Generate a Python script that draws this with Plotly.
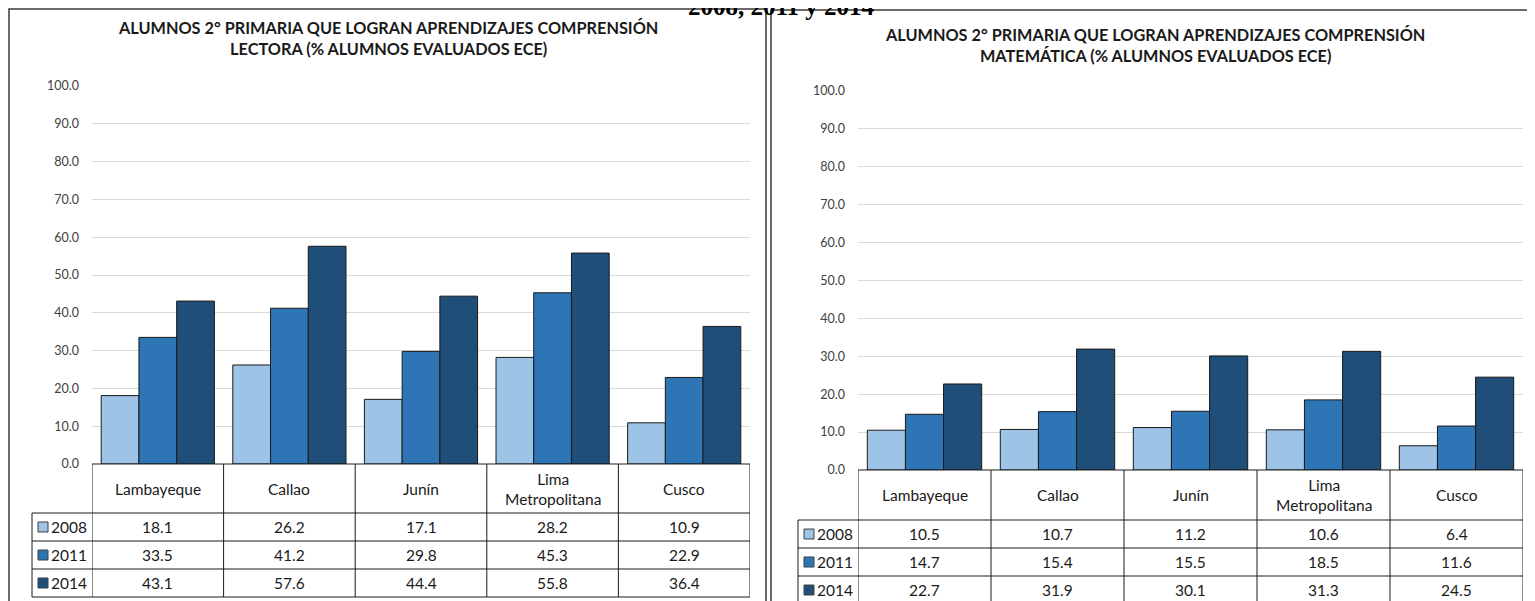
import plotly.graph_objects as go

# data
regiones = ["Lambayeque", "Callao", "Junín", "Lima<br>Metropolitana", "Cusco"]
anios = ["2008", "2011", "2014"]
lectora_2008 = [18.1, 26.2, 17.1, 28.2, 10.9]
lectora_2011 = [33.5, 41.2, 29.8, 45.3, 22.9]
lectora_2014 = [43.1, 57.6, 44.4, 55.8, 36.4]
mate_2008 = [10.5, 10.7, 11.2, 10.6, 6.4]
mate_2011 = [14.7, 15.4, 15.5, 18.5, 11.6]
mate_2014 = [22.7, 31.9, 30.1, 31.3, 24.5]
colores = ["#9DC3E6", "#2E75B6", "#1F4E79"]
titulo_lectora = "ALUMNOS 2° PRIMARIA QUE LOGRAN APRENDIZAJES COMPRENSIÓN<br>LECTORA (% ALUMNOS EVALUADOS ECE)"
titulo_mate = "ALUMNOS 2° PRIMARIA QUE LOGRAN APRENDIZAJES COMPRENSIÓN<br>MATEMÁTICA (% ALUMNOS EVALUADOS ECE)"
encabezado = "2008, 2011 y 2014"

W, H = 1535, 601
OFF = 8  # margen por defecto del <body> en la página
FONT = "Lato"
TXT = "#1a1a1a"


def fx(p):
    return (p - OFF) / W


def fy(p):
    return 1 - (p - OFF) / H


fig = go.Figure()

paneles = [
    dict(xa="x", ya="y", series=[lectora_2008, lectora_2011, lectora_2014], titulo=titulo_lectora,
         left=92, right=750, top=86, zero=464, filas=[513, 541, 569, 597], leg_x=32,
         frame=(9, 9, 766), title_y=38, title_x=388),
    dict(xa="x2", ya="y2", series=[mate_2008, mate_2011, mate_2014], titulo=titulo_mate,
         left=858, right=1523, top=91, zero=470, filas=[520, 548, 576, 605], leg_x=798,
         frame=(771, 10, 1560), title_y=45, title_x=1155),
]

shapes = []
annotations = []

for p in paneles:
    for anio, vals, col in zip(anios, p["series"], colores):
        fig.add_trace(go.Bar(x=regiones, y=vals, name=anio, marker_color=col,
                             marker_line=dict(color="#1a1a1a", width=1),
                             xaxis=p["xa"], yaxis=p["ya"], showlegend=False,
                             hovertemplate="%{y:.1f}"))
    # marco del gráfico
    fx0, fy0, fx1 = p["frame"]
    shapes.append(dict(type="rect", xref="paper", yref="paper", x0=fx(fx0), x1=fx(fx1),
                       y0=fy(fy0), y1=fy(H + 30), line=dict(color="#3a3a3a", width=1.5), layer="below"))
    # título
    annotations.append(dict(text="<b>" + p["titulo"] + "</b>", xref="paper", yref="paper",
                            x=fx(p["title_x"]), y=fy(p["title_y"]), xanchor="center", yanchor="middle",
                            showarrow=False, font=dict(family=FONT, size=16.3, color=TXT), align="center"))
    # tabla de datos
    filas = p["filas"]
    ln = dict(color="#1a1a1a", width=1)
    shapes.append(dict(type="line", xref=p["xa"], yref="paper", x0=-0.5, x1=4.5,
                       y0=fy(p["zero"]), y1=fy(p["zero"]), line=ln))
    for yy in filas:
        shapes.append(dict(type="line", xref="paper", yref="paper", x0=fx(p["leg_x"]), x1=fx(p["right"]),
                           y0=fy(yy), y1=fy(yy), line=ln))
    for i in range(len(regiones) + 1):
        shapes.append(dict(type="line", xref=p["xa"], yref="paper", x0=i - 0.5, x1=i - 0.5,
                           y0=fy(p["zero"]), y1=fy(filas[-1]), line=ln))
    shapes.append(dict(type="line", xref="paper", yref="paper", x0=fx(p["leg_x"]), x1=fx(p["leg_x"]),
                       y0=fy(filas[0]), y1=fy(filas[-1]), line=ln))
    for reg in regiones:
        annotations.append(dict(text=reg, xref=p["xa"], yref="paper", x=reg,
                                y=fy((p["zero"] + filas[0]) / 2), xanchor="center", yanchor="middle",
                                showarrow=False, font=dict(family=FONT, size=15.5, color=TXT)))
    for k, (anio, vals, col) in enumerate(zip(anios, p["series"], colores)):
        yc = (filas[k] + min(filas[k + 1], filas[k] + 28)) / 2
        for reg, v in zip(regiones, vals):
            annotations.append(dict(text=f"{v:.1f}", xref=p["xa"], yref="paper", x=reg, y=fy(yc),
                                    xanchor="center", yanchor="middle", showarrow=False,
                                    font=dict(family=FONT, size=15.5, color=TXT)))
        lx = p["leg_x"] + 6
        shapes.append(dict(type="rect", xref="paper", yref="paper", x0=fx(lx), x1=fx(lx + 10),
                           y0=fy(yc + 5), y1=fy(yc - 5), fillcolor=col,
                           line=dict(color="#404040", width=1)))
        annotations.append(dict(text=anio, xref="paper", yref="paper", x=fx(lx + 11), y=fy(yc),
                                xanchor="left", yanchor="middle", showarrow=False,
                                font=dict(family=FONT, size=15.5, color=TXT)))

# encabezado recortado arriba
annotations.append(dict(text="<b>" + encabezado + "</b>", xref="paper", yref="paper", x=fx(782), y=fy(22),
                        xanchor="center", yanchor="bottom", showarrow=False,
                        font=dict(family="Liberation Serif", size=25, color="#000000")))

eje_y = dict(range=[0, 100], dtick=10, tickformat=".1f", showgrid=True, gridcolor="#D9D9D9",
             gridwidth=1, zeroline=False, showline=False, ticks="", ticklabelstandoff=12,
             tickfont=dict(family=FONT, size=12.5, color="#404040"), fixedrange=True)
eje_x = dict(range=[-0.5, 4.5], showticklabels=False, showgrid=False, zeroline=False,
             showline=False, ticks="", fixedrange=True)

fig.update_layout(
    width=W, height=H, margin=dict(l=0, r=0, t=0, b=0, autoexpand=False),
    paper_bgcolor="white", plot_bgcolor="white",
    barmode="group", bargap=0.14, bargroupgap=0,
    xaxis=dict(eje_x, domain=[fx(92), fx(750)]),
    yaxis=dict(eje_y, domain=[fy(464), fy(86)]),
    xaxis2=dict(eje_x, domain=[fx(858), fx(1523)], anchor="y2"),
    yaxis2=dict(eje_y, domain=[fy(470), fy(91)], anchor="x2"),
    shapes=shapes, annotations=annotations,
    font=dict(family=FONT),
)

fig.write_html("out.html")
